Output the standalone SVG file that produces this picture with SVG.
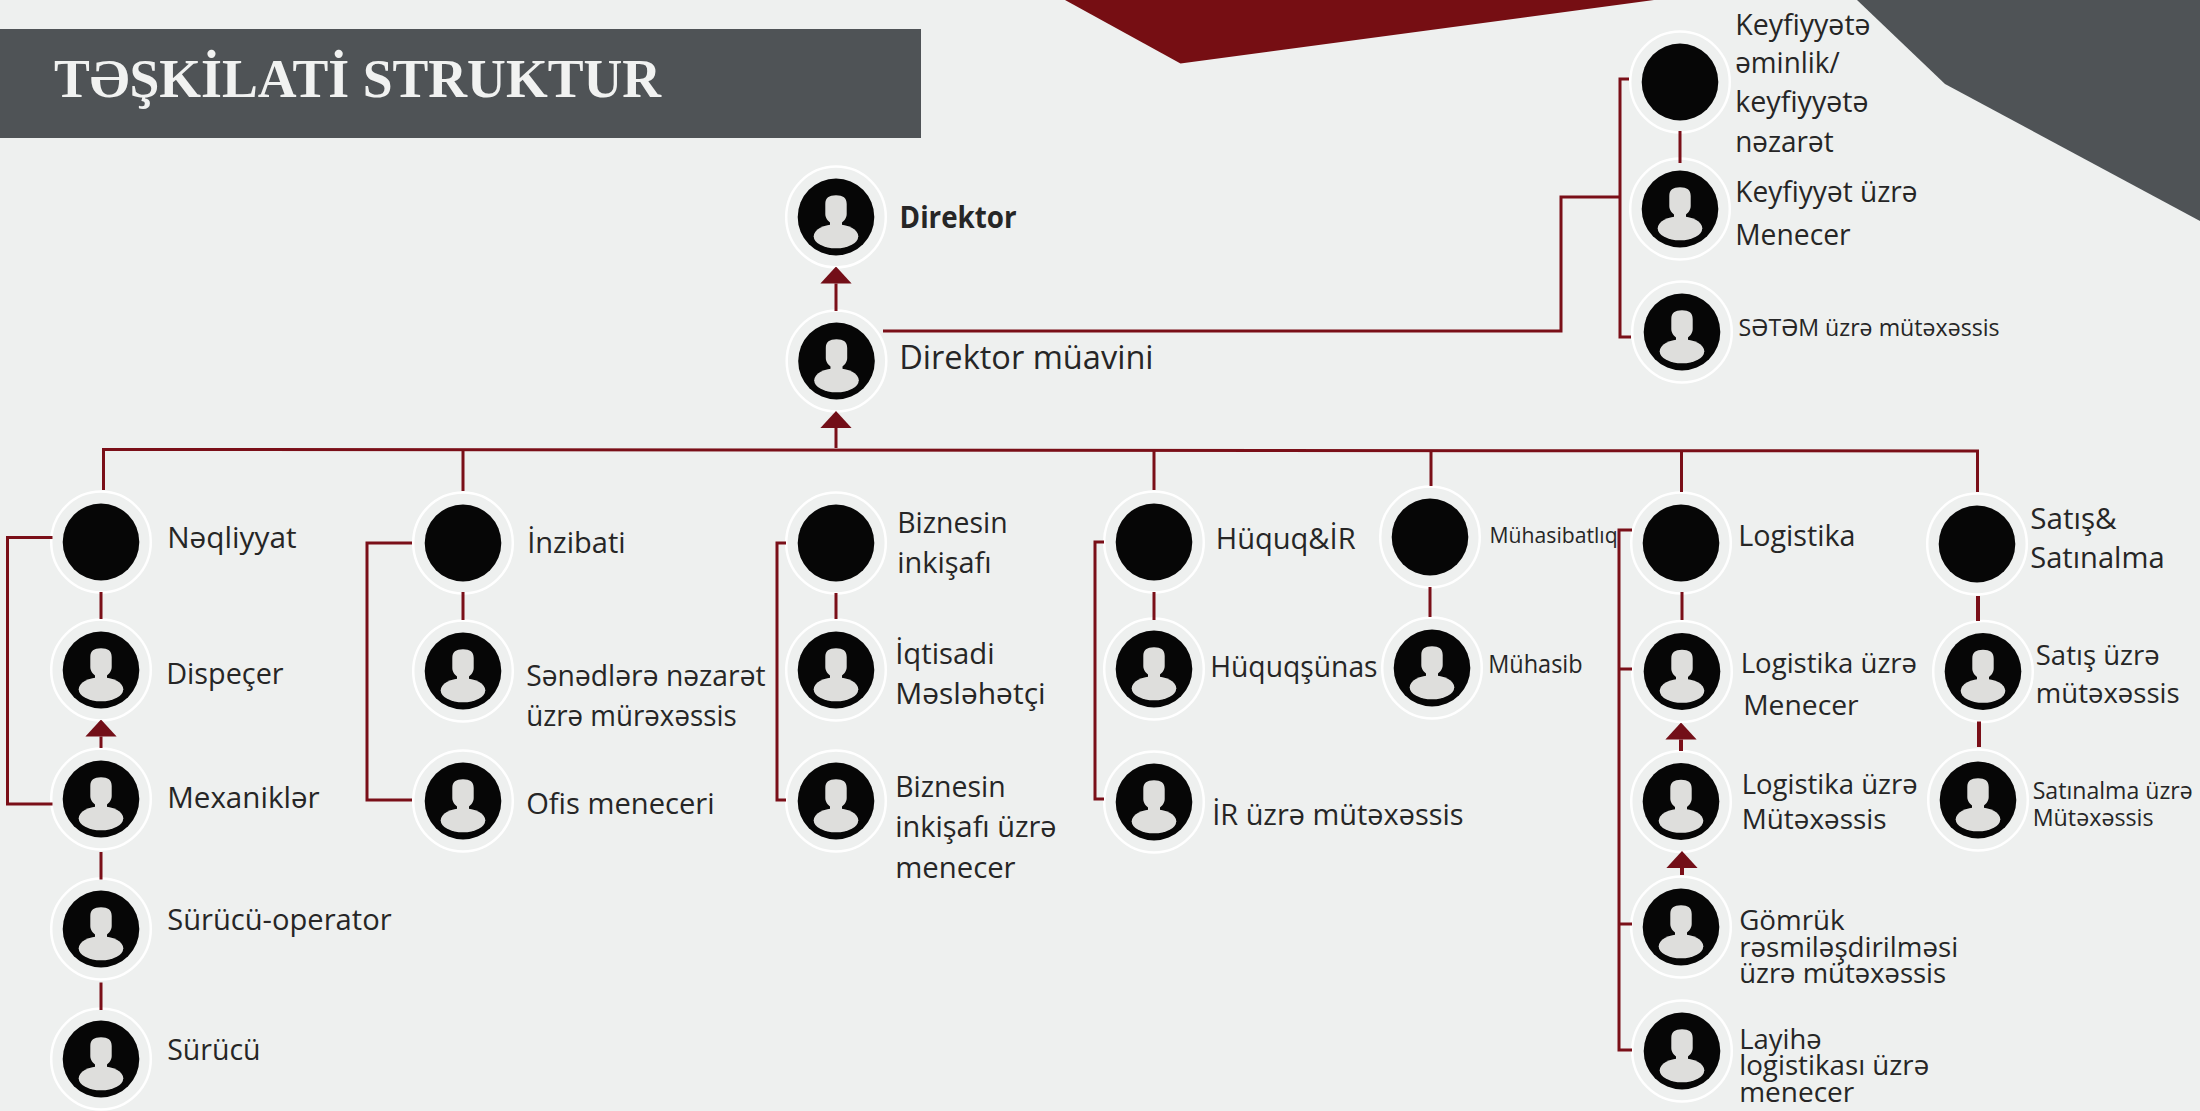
<svg xmlns="http://www.w3.org/2000/svg" xmlns:xlink="http://www.w3.org/1999/xlink" width="2200" height="1111" viewBox="0 0 2200 1111">
<style>
text{font-family:"Open Sans","Noto Sans","DejaVu Sans",sans-serif;fill:#262626;transform:translateX(.6px)}
.title{font-family:"Liberation Serif",serif;font-weight:700;font-size:55px;fill:#f1f2f1;transform:none}
.b{font-weight:700}
.s30{font-size:33px}.s28{font-size:30px}.s27{font-size:28px}.s26{font-size:28px}.s23{font-size:25px}.s235{font-size:23px}.s22{font-size:24px}.s21{font-size:22px}
.c{fill:none;stroke:#7a0f18;stroke-width:3}
.c4{fill:none;stroke:#7a0f18;stroke-width:4}
.ring{fill:none;stroke:#fff;stroke-width:2.5}
.disc{fill:#060606}
.person{fill:#dededc}
</style>
<defs>
<g id="blank"><ellipse class="ring" rx="49.800" ry="50.500"/><ellipse class="disc" rx="38.3" ry="38.5"/></g>
<g id="pers"><ellipse class="ring" rx="49.800" ry="50.500"/><ellipse class="disc" rx="38.3" ry="38.5"/><path class="person" d="M0-21.7C-7-21.7-10.7-19-10.7-13L-10.7-3C-10.7 1-8 4-6 5.5L-6 9 6 9 6 5.5C8 4 10.7 1 10.7-3L10.7-13C10.7-19 7-21.7 0-21.7Z"/><ellipse class="person" cy="19.3" rx="22.3" ry="12"/></g>
<marker id="arr" markerUnits="userSpaceOnUse" viewBox="0 -16 17 32" markerWidth="17" markerHeight="32" refX="0" refY="0" orient="auto"><path d="M0-15.6 17 0 0 15.6Z" fill="#730f18"/></marker>
</defs>
<rect width="2200" height="1111" fill="#eef0ef"/>
<g id="decor">
<polygon points="1065,0 1180.500,63.500 1654,0" fill="#760e13"/>
<polygon points="1857,0 1945,84 2200,221 2200,0" fill="#4f5356"/>
<rect x="0" y="29" width="921" height="109" fill="#4f5356"/>
<text class="title" x="54" y="97" textLength="607" lengthAdjust="spacingAndGlyphs">TƏŞKİLATİ STRUKTUR</text>
</g>
<g id="n-direktor"><use href="#pers" x="836" y="217"/><text class="s28 b" x="899" y="228" textLength="117" lengthAdjust="spacingAndGlyphs">Direktor</text></g>
<g id="n-muavin"><use href="#pers" x="836.500" y="361"/><text class="s30" x="898.600" y="369" textLength="254.400" lengthAdjust="spacingAndGlyphs">Direktor müavini</text></g>
<g id="n-keyf1"><use href="#blank" x="1680" y="82"/><text class="s28" x="1734.600" y="35" textLength="135.400" lengthAdjust="spacingAndGlyphs">Keyfiyyətə</text><text class="s28" x="1734.600" y="73" textLength="104.400" lengthAdjust="spacingAndGlyphs">əminlik/</text><text class="s28" x="1734.600" y="112" textLength="133.400" lengthAdjust="spacingAndGlyphs">keyfiyyətə</text><text class="s28" x="1734.600" y="152" textLength="98.400" lengthAdjust="spacingAndGlyphs">nəzarət</text></g>
<g id="n-keyf2"><use href="#pers" x="1680" y="209"/><text class="s28" x="1734.600" y="202" textLength="182.400" lengthAdjust="spacingAndGlyphs">Keyfiyyət üzrə</text><text class="s28" x="1734.600" y="245" textLength="115.400" lengthAdjust="spacingAndGlyphs">Menecer</text></g>
<g id="n-setem"><use href="#pers" x="1682" y="332"/><text class="s22" x="1738" y="336" textLength="261" lengthAdjust="spacingAndGlyphs">SƏTƏM üzrə mütəxəssis</text></g>
<g id="n-neqliyyat"><use href="#blank" x="101" y="542"/><text class="s28" x="166.600" y="548" textLength="129.400" lengthAdjust="spacingAndGlyphs">Nəqliyyat</text></g>
<g id="n-dispecer"><use href="#pers" x="101" y="670"/><text class="s28" x="165.600" y="684" textLength="117.400" lengthAdjust="spacingAndGlyphs">Dispeçer</text></g>
<g id="n-mexanik"><use href="#pers" x="101" y="799"/><text class="s28" x="166.600" y="808" textLength="152.400" lengthAdjust="spacingAndGlyphs">Mexaniklər</text></g>
<g id="n-operator"><use href="#pers" x="101" y="929"/><text class="s28" x="166.600" y="930" textLength="224.400" lengthAdjust="spacingAndGlyphs">Sürücü-operator</text></g>
<g id="n-surucu"><use href="#pers" x="101" y="1059"/><text class="s28" x="166.600" y="1059.600" textLength="93.400" lengthAdjust="spacingAndGlyphs">Sürücü</text></g>
<g id="n-inzibati"><use href="#blank" x="463" y="543"/><text class="s28" x="526.600" y="553" textLength="98.400" lengthAdjust="spacingAndGlyphs">İnzibati</text></g>
<g id="n-sened"><use href="#pers" x="463" y="671"/><text class="s28" x="525.600" y="686" textLength="239.400" lengthAdjust="spacingAndGlyphs">Sənədlərə nəzarət</text><text class="s28" x="525.600" y="726" textLength="210.400" lengthAdjust="spacingAndGlyphs">üzrə mürəxəssis</text></g>
<g id="n-ofis"><use href="#pers" x="463" y="801"/><text class="s28" x="525.600" y="814" textLength="188.400" lengthAdjust="spacingAndGlyphs">Ofis meneceri</text></g>
<g id="n-biznes"><use href="#blank" x="836" y="543"/><text class="s28" x="896.600" y="533" textLength="110.400" lengthAdjust="spacingAndGlyphs">Biznesin</text><text class="s28" x="896.600" y="573" textLength="94.400" lengthAdjust="spacingAndGlyphs">inkişafı</text></g>
<g id="n-iqtisadi"><use href="#pers" x="836" y="670"/><text class="s28" x="894.600" y="664" textLength="99.400" lengthAdjust="spacingAndGlyphs">İqtisadi</text><text class="s28" x="894.600" y="704" textLength="150.400" lengthAdjust="spacingAndGlyphs">Məsləhətçi</text></g>
<g id="n-bizmen"><use href="#pers" x="836" y="801"/><text class="s28" x="894.600" y="797" textLength="110.400" lengthAdjust="spacingAndGlyphs">Biznesin</text><text class="s28" x="894.600" y="837" textLength="161.400" lengthAdjust="spacingAndGlyphs">inkişafı üzrə</text><text class="s28" x="894.600" y="878" textLength="120.400" lengthAdjust="spacingAndGlyphs">menecer</text></g>
<g id="n-huquq"><use href="#blank" x="1154" y="542"/><text class="s28" x="1215.100" y="549" textLength="139.900" lengthAdjust="spacingAndGlyphs">Hüquq&amp;İR</text></g>
<g id="n-huquqsunas"><use href="#pers" x="1154" y="669"/><text class="s28" x="1209.600" y="677" textLength="167.400" lengthAdjust="spacingAndGlyphs">Hüquqşünas</text></g>
<g id="n-ir"><use href="#pers" x="1154" y="802"/><text class="s28" x="1211.600" y="825" textLength="251.400" lengthAdjust="spacingAndGlyphs">İR üzrə mütəxəssis</text></g>
<g id="n-muhasibat"><use href="#blank" x="1430" y="537"/><text class="s21" x="1489" y="543" textLength="128" lengthAdjust="spacingAndGlyphs">Mühasibatlıq</text></g>
<g id="n-muhasib"><use href="#pers" x="1432" y="668"/><text class="s23" x="1487.600" y="673" textLength="94.400" lengthAdjust="spacingAndGlyphs">Mühasib</text></g>
<g id="n-logistika"><use href="#blank" x="1681" y="543"/><text class="s28" x="1737.600" y="546" textLength="117.400" lengthAdjust="spacingAndGlyphs">Logistika</text></g>
<g id="n-logmen"><use href="#pers" x="1682" y="671.500"/><text class="s27" x="1740.100" y="673" textLength="176.400" lengthAdjust="spacingAndGlyphs">Logistika üzrə</text><text class="s27" x="1742.600" y="715" textLength="115.400" lengthAdjust="spacingAndGlyphs">Menecer</text></g>
<g id="n-logmut"><use href="#pers" x="1681" y="801.500"/><text class="s27" x="1741.100" y="794" textLength="175.900" lengthAdjust="spacingAndGlyphs">Logistika üzrə</text><text class="s27" x="1741.100" y="828.500" textLength="144.900" lengthAdjust="spacingAndGlyphs">Mütəxəssis</text></g>
<g id="n-gomruk"><use href="#pers" x="1681" y="927"/><text class="s27" x="1738.600" y="930" textLength="105.400" lengthAdjust="spacingAndGlyphs">Gömrük</text><text class="s27" x="1738.600" y="957" textLength="219" lengthAdjust="spacingAndGlyphs">rəsmiləşdirilməsi</text><text class="s27" x="1738.600" y="983" textLength="206.900" lengthAdjust="spacingAndGlyphs">üzrə mütəxəssis</text></g>
<g id="n-layihe"><use href="#pers" x="1682" y="1051"/><text class="s27" x="1738.600" y="1049" textLength="82.400" lengthAdjust="spacingAndGlyphs">Layihə</text><text class="s27" x="1738.600" y="1075.400" textLength="190" lengthAdjust="spacingAndGlyphs">logistikası üzrə</text><text class="s27" x="1738.600" y="1102" textLength="115" lengthAdjust="spacingAndGlyphs">menecer</text></g>
<g id="n-satis"><use href="#blank" x="1977" y="544"/><text class="s28" x="2029.600" y="528.600" textLength="86.400" lengthAdjust="spacingAndGlyphs">Satış&amp;</text><text class="s28" x="2029.600" y="568" textLength="134.400" lengthAdjust="spacingAndGlyphs">Satınalma</text></g>
<g id="n-satismut"><use href="#pers" x="1983" y="671.500"/><text class="s26" x="2035.200" y="664.600" textLength="123.800" lengthAdjust="spacingAndGlyphs">Satış üzrə</text><text class="s26" x="2035.200" y="703" textLength="143.800" lengthAdjust="spacingAndGlyphs">mütəxəssis</text></g>
<g id="n-satinalma"><use href="#pers" x="1978" y="800"/><text class="s235" x="2032.100" y="798.600" textLength="159.900" lengthAdjust="spacingAndGlyphs">Satınalma üzrə</text><text class="s235" x="2032.100" y="826" textLength="120.900" lengthAdjust="spacingAndGlyphs">Mütəxəssis</text></g>
<g id="connectors">
<path class="c" d="M103.5 490V449.500L1977.5 451V492"/>
<path class="c" d="M463 450V491M1154 450V490M1431 450V486M1681.500 451V492"/>
<path class="c" d="M836 448V428" marker-end="url(#arr)"/>
<path class="c" d="M836 311V283.500" marker-end="url(#arr)"/>
<path class="c" d="M883 331H1561V197H1620"/>
<path class="c" d="M1629 79H1620V337H1631"/>
<path class="c" d="M1680 131V163"/>
<path class="c" d="M52.500 537.500H7.500V804H52.500"/>
<path class="c" d="M412 543H367V800H412"/>
<path class="c" d="M786 543H777V800H786"/>
<path class="c" d="M1104 542H1095V799H1104"/>
<path class="c" d="M1632 530H1619V1050H1632M1619 669H1632M1619 924H1632"/>
<path class="c" d="M101 592V619M101 852V879.500M101 982.600V1010"/>
<path class="c" d="M101 748V736.500" marker-end="url(#arr)"/>
<path class="c" d="M463 592V620"/>
<path class="c" d="M836 593V619"/>
<path class="c" d="M1154 592V620"/>
<path class="c" d="M1430 587V617"/>
<path class="c" d="M1682 592V620"/>
<path class="c4" d="M1681 751V739.500" marker-end="url(#arr)"/>
<path class="c4" d="M1682 875V868" marker-end="url(#arr)"/>
<path class="c4" d="M1978 596V621M1979 721.500V747"/>
</g>
</svg>
